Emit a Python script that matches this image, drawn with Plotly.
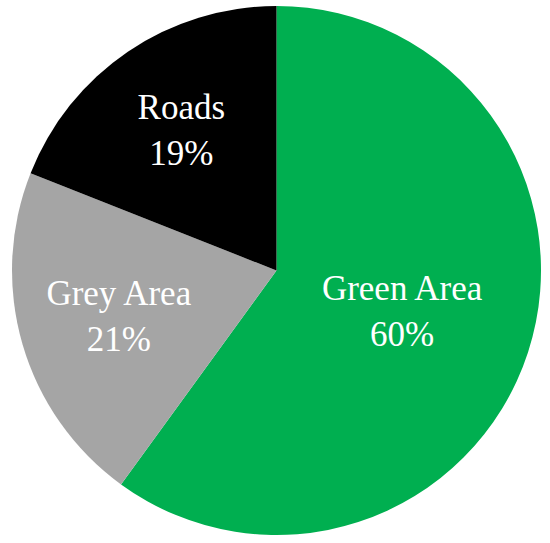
import plotly.graph_objects as go

labels = ["Green Area", "Grey Area", "Roads"]
values = [60, 21, 19]
colors = ["#00AF50", "#A5A5A5", "#000000"]

fig = go.Figure(go.Pie(
    labels=labels,
    values=values,
    sort=False,
    direction="clockwise",
    rotation=0,
    marker=dict(colors=colors, line=dict(width=0)),
    texttemplate="%{label}<br>%{percent:.0%}",
    textposition="inside",
    insidetextorientation="horizontal",
    textfont=dict(family="Liberation Serif", size=35, color="white"),
    domain=dict(x=[12/550, 541/550], y=[8/543, 537/543]),
    showlegend=False,
    hoverinfo="skip",
))

fig.update_layout(
    width=550, height=543,
    margin=dict(l=0, r=0, t=0, b=0),
    paper_bgcolor="white",
    uniformtext=dict(minsize=35, mode="show"),
)

# drop the page's default body margin so the figure sits at the window's corner
fig.write_html("out.html", config={"displayModeBar": False},
               post_script="document.body.style.margin='0px';")
